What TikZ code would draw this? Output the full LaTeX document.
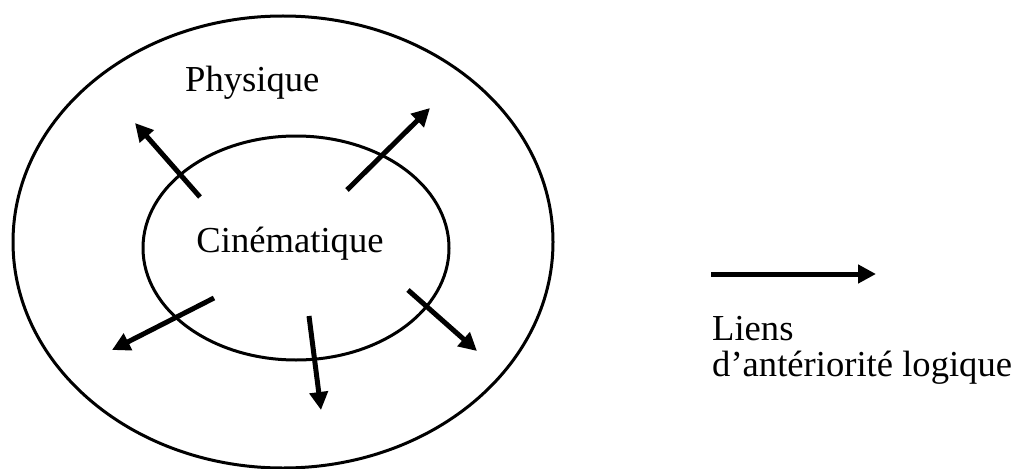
\documentclass[tikz,border=0pt]{standalone}
\usepackage{fontspec}
\setmainfont{Liberation Serif}
\usetikzlibrary{arrows.meta}
\tikzset{
  ring/.style={draw=black, line width=3pt},
  link/.style={line width=5pt, -{Triangle[length=18pt,width=18pt]}},
  lbl/.style={inner sep=0pt, font=\fontsize{36.6}{44}\selectfont},
}
\begin{document}
\begin{tikzpicture}[x=1pt,y=-1pt]
\useasboundingbox (0,0) rectangle (1024,468);
\draw[ring] (283,242) ellipse [x radius=270, y radius=226];
\draw[ring] (296,248) ellipse [x radius=153, y radius=112];
\node[lbl, anchor=base west] (phys) at (185,92) {Physique};
\node[lbl, anchor=base] (cine) at (290,252) {Cinématique};
\coordinate (a1s) at (200,197); \coordinate (a1e) at (135,123);
\coordinate (a2s) at (347,190); \coordinate (a2e) at (430,108);
\coordinate (a3s) at (214,298); \coordinate (a3e) at (112,350);
\coordinate (a4s) at (309,316); \coordinate (a4e) at (321,410);
\coordinate (a5s) at (408,290); \coordinate (a5e) at (477,351);
\coordinate (ls) at (711,274); \coordinate (le) at (876,274);
\draw[link] (a1s) -- (a1e);
\draw[link] (a2s) -- (a2e);
\draw[link] (a3s) -- (a3e);
\draw[link] (a4s) -- (a4e);
\draw[link] (a5s) -- (a5e);
\draw[link] (ls) -- (le);
\node[lbl, anchor=base west] (liens) at (712,340) {Liens};
\node[lbl, anchor=base west] (ante) at (712,376) {d’antériorité logique};
\end{tikzpicture}
\end{document}
